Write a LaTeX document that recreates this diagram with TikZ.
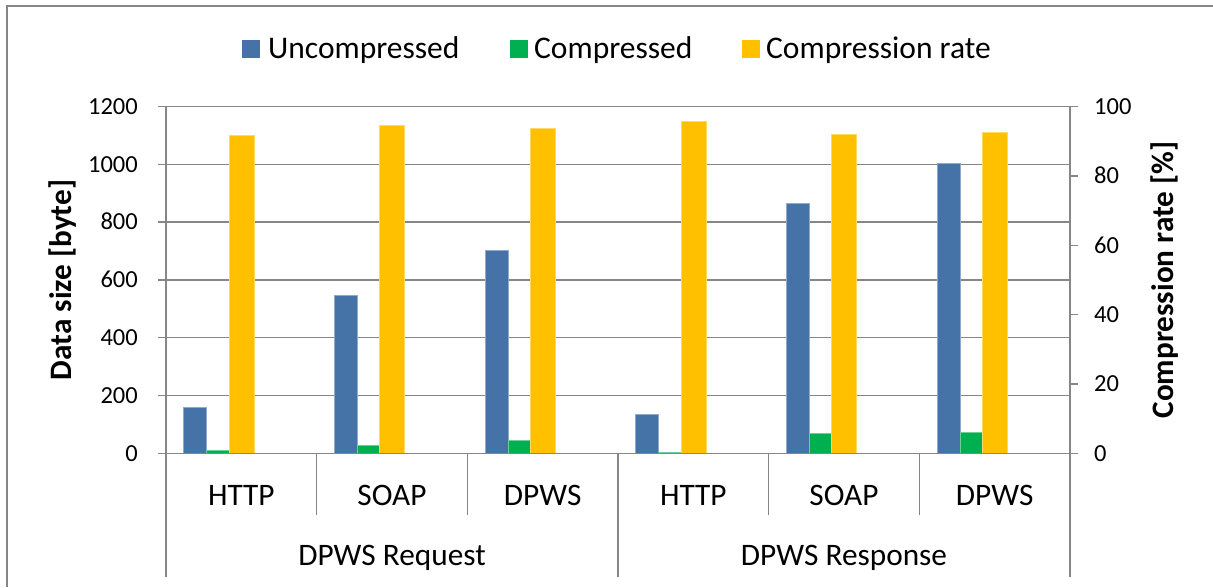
\documentclass[tikz,border=0pt]{standalone}
\usepackage{fontspec}
\setmainfont{Carlito}
\definecolor{cblue}{RGB}{69,114,167}
\definecolor{cgreen}{RGB}{0,176,80}
\definecolor{cyell}{RGB}{255,192,0}
\definecolor{cgrid}{RGB}{134,134,134}
\begin{document}
\begin{tikzpicture}[x=1pt,y=-1pt,
  frameline/.style={draw=cgrid,line width=1.3pt},
  gridline/.style={draw=cgrid,line width=1.5pt},
  axisline/.style={draw=cgrid,line width=1.5pt},
  ticklbl/.style={inner sep=0pt,font=\fontsize{24.5}{28}\selectfont},
  catlbl/.style={inner sep=0pt,font=\fontsize{31.3}{36}\selectfont},
  legtxt/.style={inner sep=0pt,anchor=base west,font=\fontsize{31.5}{36}\selectfont},
  axtitle/.style={inner sep=0pt,anchor=base,rotate=90,font=\fontsize{31.2}{36}\selectfont\bfseries},
  bluebar/.style={fill=cblue,draw=cblue!60!white,line width=0.8pt},
  greenbar/.style={fill=cgreen,draw=cgreen!60!white,line width=0.8pt},
  yellbar/.style={fill=cyell,draw=cyell!60!white,line width=0.8pt}]
\useasboundingbox (0,0) rectangle (1213,587);
\fill[white] (0,0) rectangle (1213,587);
\draw[frameline] (7,587) -- (7,6) -- (1213,6);
% legend
\fill[cblue] (242,40) rectangle (260,57.7);
\node[legtxt] (lu) at (268,58) {Uncompressed};
\fill[cgreen] (509.5,40) rectangle (527.5,57.7);
\node[legtxt] (lc) at (534,58) {Compressed};
\fill[cyell] (741.5,40) rectangle (759.5,57.7);
\node[legtxt] (lr) at (766,58) {Compression rate};
% gridlines
\foreach \v in {200,400,...,1200}
  \draw[gridline] (166,{453.3-\v*0.289}) -- (1070,{453.3-\v*0.289});
% bars
\foreach \k/\b/\g/\r in {0/158/9/91.7,1/547/29/94.7,2/702/43/93.6,3/136/4/95.8,4/864/69/91.9,5/1002/74/92.5}{
  \pgfmathsetmacro{\s}{166+150.667*\k}
  \draw[bluebar] ({\s+17.7},453.3) rectangle ({\s+40.7},{453.3-\b*0.289});
  \draw[greenbar] ({\s+40.7},453.3) rectangle ({\s+63.2},{453.3-\g*0.289});
  \draw[yellbar] ({\s+63.2},453.3) rectangle ({\s+88.2},{453.3-\r*3.4667});
}
% axes
\draw[axisline] (166,106.5) -- (166,577);
\draw[axisline] (1070,106.5) -- (1070,577);
\draw[axisline] (618,453.3) -- (618,577);
\foreach \x in {316.7,467.3,768.7,919.3}
  \draw[axisline] (\x,453.3) -- (\x,515);
\draw[axisline] (158,453.3) -- (1078,453.3);
\foreach \v in {0,200,...,1200}{
  \draw[axisline] (158,{453.3-\v*0.289}) -- (166,{453.3-\v*0.289});
  \node[ticklbl,anchor=base east] (ly\v) at (138,{453.3-\v*0.289+7.7}) {\v};
}
\foreach \v in {0,20,...,100}{
  \draw[axisline] (1070,{453.3-\v*3.4667}) -- (1078,{453.3-\v*3.4667});
  \node[ticklbl,anchor=base west] (ry\v) at (1094,{453.3-\v*3.4667+7.7}) {\v};
}
% category labels
\foreach \k/\t in {0/HTTP,1/SOAP,2/DPWS,3/HTTP,4/SOAP,5/DPWS}
  \node[catlbl,anchor=base] (cat\k) at ({166+150.667*\k+75.33},505) {\t};
\node[catlbl,anchor=base] (grq) at (392,565) {DPWS Request};
\node[catlbl,anchor=base] (grs) at (844,565) {DPWS Response};
% axis titles
\node[axtitle] (tl) at (71.7,280) {Data size [byte]};
\node[axtitle] (tr) at (1173,280) {Compression rate [\%]};
\end{tikzpicture}
\end{document}
